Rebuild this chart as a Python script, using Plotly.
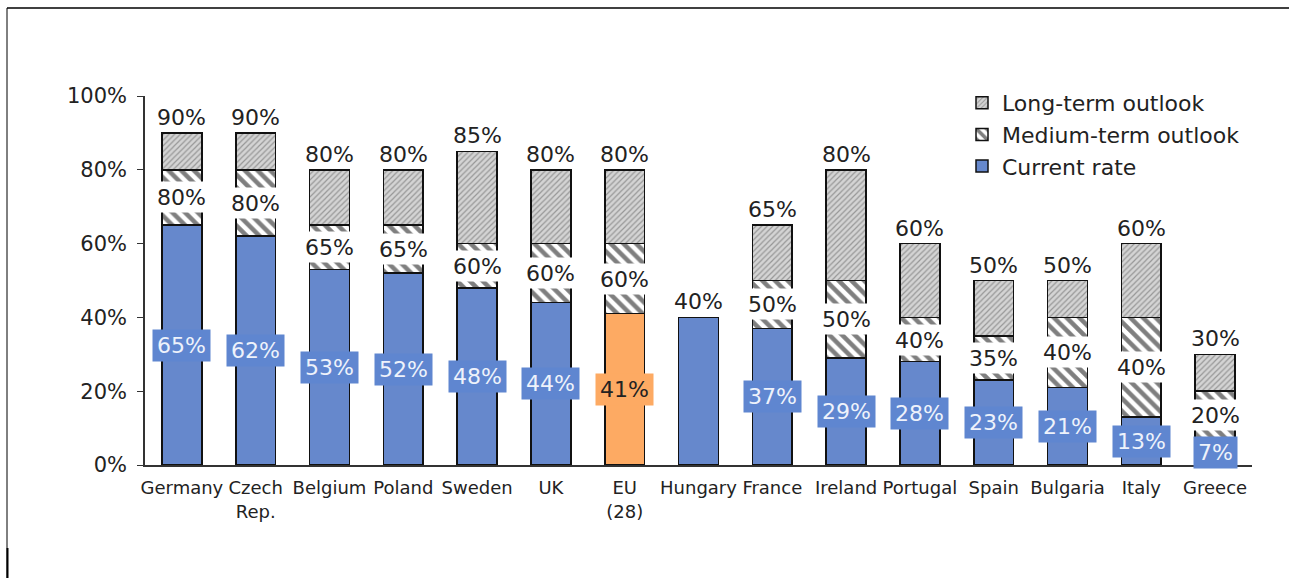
import plotly.graph_objects as go

# Share of the target rate reached now and expected later, per country
countries = ["Germany", "Czech<br>Rep.", "Belgium", "Poland", "Sweden", "UK", "EU<br>(28)",
             "Hungary", "France", "Ireland", "Portugal", "Spain", "Bulgaria", "Italy", "Greece"]
current = [65, 62, 53, 52, 48, 44, 41, 40, 37, 29, 28, 23, 21, 13, 7]
medium = [80, 80, 65, 65, 60, 60, 60, None, 50, 50, 40, 35, 40, 40, 20]
long_term = [90, 90, 80, 80, 85, 80, 80, None, 65, 80, 60, 50, 50, 60, 30]
highlight = "EU<br>(28)"

FONT = "DejaVu Sans"
BLUE = "#6688cc"
LABEL_BLUE = "#5f86d0"
ORANGE = "#fdaa63"
TEXT = "#222222"

bar_colors = [ORANGE if c == highlight else BLUE for c in countries]
med_part = [None if m is None else m - c for c, m in zip(current, medium)]
long_part = [None if (l is None or m is None) else l - m for m, l in zip(medium, long_term)]

fig = go.Figure()
fig.add_trace(go.Bar(
    x=countries, y=current, name="Current rate",
    marker=dict(color=bar_colors, line=dict(color="#111111", width=1.5)),
))
fig.add_trace(go.Bar(
    x=countries, y=med_part, name="Medium-term outlook",
    marker=dict(color="white", line=dict(color="#111111", width=1.5),
                pattern=dict(shape="\\", bgcolor="white", fgcolor="#000000",
                             size=9, solidity=0.5)),
))
fig.add_trace(go.Bar(
    x=countries, y=long_part, name="Long-term outlook",
    marker=dict(color="#d4d4d4", line=dict(color="#111111", width=1.5),
                pattern=dict(shape="/", bgcolor="#d4d4d4", fgcolor="#5a5a5a",
                             size=4, solidity=0.3)),
))

annotations = []
for name, c, m, l in zip(countries, current, medium, long_term):
    is_hl = name == highlight
    if m is None:
        # Only a current value: print it above the bar
        annotations.append(dict(x=name, y=c, text=f"{c}%", showarrow=False,
                                yanchor="bottom", yshift=1,
                                font=dict(family=FONT, size=22, color=TEXT)))
        continue
    # Current value, centred in its bar segment
    annotations.append(dict(
        x=name, y=c / 2, text=f"{c}%", showarrow=False,
        bgcolor=ORANGE if is_hl else LABEL_BLUE, borderpad=4, height=23,
        font=dict(family=FONT, size=22, color=TEXT if is_hl else "#eef2fb")))
    # Medium-term total, on a white box inside the hatched segment
    annotations.append(dict(
        x=name, y=(c + m) / 2, text=f"{m}%", showarrow=False,
        bgcolor="white", borderpad=4, height=22,
        font=dict(family=FONT, size=22, color=TEXT)))
    # Long-term total above the bar
    annotations.append(dict(
        x=name, y=l, text=f"{l}%", showarrow=False, yanchor="bottom", yshift=1,
        font=dict(family=FONT, size=22, color=TEXT)))

# Figure frame lines (paper coordinates relative to the plot area)
L, R, T, B = 145, 1252, 96, 465
def px(x):
    return (x - L) / (R - L)
def py(y):
    return (B - y) / (B - T)

shapes = [
    dict(type="line", xref="paper", yref="paper", x0=px(7), x1=px(1289), y0=py(8), y1=py(8),
         line=dict(color="black", width=1.5)),
    dict(type="line", xref="paper", yref="paper", x0=px(7), x1=px(7), y0=py(8), y1=py(578),
         line=dict(color="black", width=1)),
    dict(type="line", xref="paper", yref="paper", x0=px(7.5), x1=px(7.5), y0=py(548), y1=py(578),
         line=dict(color="black", width=2)),
]

fig.update_layout(
    barmode="stack",
    bargap=0.46,
    width=1289, height=578,
    margin=dict(l=L, r=1289 - R, t=T, b=578 - B),
    paper_bgcolor="white", plot_bgcolor="white",
    font=dict(family=FONT, color=TEXT),
    annotations=annotations,
    shapes=shapes,
    legend=dict(x=px(962), y=py(82), xanchor="left", yanchor="top",
                traceorder="reversed", font=dict(family=FONT, size=22, color=TEXT),
                bgcolor="rgba(0,0,0,0)", itemwidth=30, tracegroupgap=0),
    showlegend=True,
)
fig.update_xaxes(showline=True, linecolor="#333333", linewidth=1.5, ticks="",
                 ticklabelstandoff=6,
                 tickfont=dict(family=FONT, size=18, color=TEXT), showgrid=False)
fig.update_yaxes(range=[0, 100], dtick=20, ticksuffix="%", showline=True,
                 linecolor="#333333", linewidth=1.5, ticks="outside", ticklen=6,
                 tickcolor="#333333", showgrid=False, zeroline=False,
                 ticklabelstandoff=6,
                 tickfont=dict(family=FONT, size=21, color=TEXT))

fig.write_html("out.html")
